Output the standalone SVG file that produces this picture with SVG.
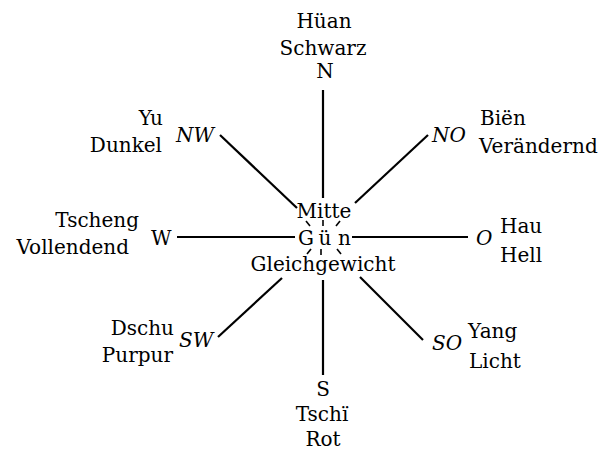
<svg xmlns="http://www.w3.org/2000/svg" width="604" height="459" viewBox="0 0 604 459">
<style>
text{font-family:"DejaVu Serif","Liberation Serif",serif;font-size:20px;fill:#000}
.m{text-anchor:middle}
.e{text-anchor:end}
.i{font-style:italic}
.c line{stroke:#000;stroke-width:2.2;stroke-linecap:butt}
.t line{stroke:#000;stroke-width:1.6}
</style>
<rect width="604" height="459" fill="#fff"/>
<g id="connectors" class="c">
<line x1="323" y1="90" x2="323" y2="198"/>
<line x1="220" y1="135" x2="297" y2="208"/>
<line x1="428" y1="135" x2="355" y2="203"/>
<line x1="177" y1="237" x2="295" y2="237"/>
<line x1="352" y1="237" x2="468" y2="237"/>
<line x1="218" y1="337" x2="282" y2="278"/>
<line x1="323" y1="280" x2="323" y2="375"/>
<line x1="360" y1="277" x2="423" y2="340"/>
</g>
<g id="ticks" class="t">
<line x1="306" y1="221" x2="310" y2="226"/>
<line x1="323" y1="220" x2="323" y2="226"/>
<line x1="340" y1="221" x2="336" y2="226"/>
<line x1="311" y1="249" x2="307" y2="254"/>
<line x1="321" y1="249" x2="321" y2="255"/>
<line x1="337" y1="249" x2="341" y2="254"/>
</g>
<g id="north">
<text class="m" x="324" y="28">Hüan</text>
<text class="m" x="323" y="55">Schwarz</text>
<text class="m" x="325" y="78">N</text>
</g>
<g id="northwest">
<text class="e" x="163" y="125">Yu</text>
<text class="e" x="162" y="152">Dunkel</text>
<text class="i" x="176" y="142">NW</text>
</g>
<g id="northeast">
<text class="i" x="432" y="142">NO</text>
<text x="480" y="125">Biën</text>
<text x="479" y="153">Verändernd</text>
</g>
<g id="west">
<text class="e" x="139" y="227">Tscheng</text>
<text class="e" x="129" y="254">Vollendend</text>
<text x="151" y="245">W</text>
</g>
<g id="center">
<text class="m" x="324" y="218">Mitte</text>
<text x="298" y="245">G</text>
<text class="m" x="325" y="245">ü</text>
<text x="338" y="245">n</text>
<text class="m" x="323" y="271">Gleichgewicht</text>
</g>
<g id="east">
<text class="i" x="476" y="245">O</text>
<text x="500" y="233">Hau</text>
<text x="500" y="262">Hell</text>
</g>
<g id="southwest">
<text class="e" x="174" y="335">Dschu</text>
<text class="e" x="173" y="362">Purpur</text>
<text class="i" x="179" y="347">SW</text>
</g>
<g id="southeast">
<text class="i" x="432" y="350">SO</text>
<text x="468" y="338">Yang</text>
<text x="469" y="368">Licht</text>
</g>
<g id="south">
<text class="m" x="323" y="396">S</text>
<text class="m" x="322" y="421">Tschï</text>
<text class="m" x="323" y="446">Rot</text>
</g>
</svg>
